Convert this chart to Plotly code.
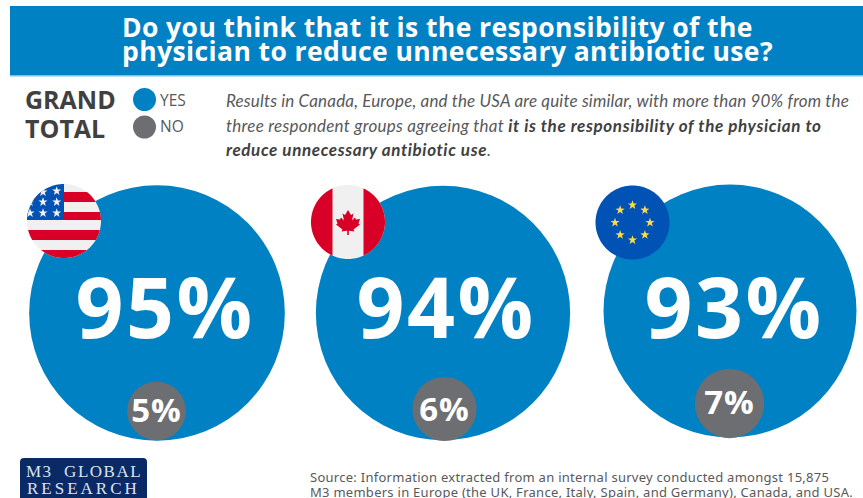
import math
import plotly.graph_objects as go

# Survey results
regions = ["USA", "Canada", "Europe"]
yes_pct = [95, 94, 93]
no_pct = [5, 6, 7]

INK = "#404041"


def spaced(text, px):
    return f'<span style="letter-spacing:{px}px">{text}</span>'


def strong(text, px):
    return f'<span style="letter-spacing:{px}px;fill:{INK}"><b>{text}</b></span>'


title_lines = [
    "Do you think that it is the responsibility of the",
    "physician to reduce unnecessary antibiotic use?",
]
intro_lines = [
    "<i>" + spaced("Results in Canada, Europe, and the USA are quite similar, with more than 90% from the", 0.16) + "</i>",
    "<i>" + spaced("three respondent groups agreeing that ", 0.25)
    + strong("it is the responsibility of the physician to", 0.62) + "</i>",
    "<i>" + strong("reduce unnecessary antibiotic use", 0.62) + ".</i>",
]
source_lines = [
    "Source: Information extracted from an internal survey conducted amongst 15,875",
    "M3 members in Europe (the UK, France, Italy, Spain, and Germany), Canada, and USA.",
]

W, H = 863, 498
BLUE = "#0081C4"
GRAY = "#6D6E71"
RED = "#D80027"
PALE = "#F0F0F0"
NAVY = "#0A2A66"
EU_BLUE = "#0052B4"
GOLD = "#FFDA44"

# Circle areas share one scale, so the bubbles compare directly
AREA_PX_PER_POINT = 172.0
sizeref = 1 / (2 * AREA_PX_PER_POINT)

yes_x = [157, 443, 730]
yes_y = [313, 313, 311]
no_x = [156.5, 444.5, 729.5]
no_y = [411, 409, 403.5]
yes_label_x = [165, 446, 734]
yes_label_y = [317, 317, 317]
no_label_y = [414, 413, 406]
flag_centres = [(64, 221), (348, 222), (632.5, 222.5)]
FLAG_R = 37


def clip(poly, x0, x1, y0, y1):
    """Clip a polygon to a rectangle, one edge at a time."""
    edges = [
        (lambda p: p[0] >= x0, 0, x0),
        (lambda p: p[0] <= x1, 0, x1),
        (lambda p: p[1] >= y0, 1, y0),
        (lambda p: p[1] <= y1, 1, y1),
    ]
    for inside, axis, val in edges:
        out = []
        for i, p in enumerate(poly):
            q = poly[(i + 1) % len(poly)]
            if inside(p):
                out.append(p)
            if inside(p) != inside(q):
                t = (val - p[axis]) / (q[axis] - p[axis])
                out.append((p[0] + t * (q[0] - p[0]), p[1] + t * (q[1] - p[1])))
        poly = out
    return poly


def circle_pts(cx, cy, r, n=120):
    return [(cx + r * math.cos(2 * math.pi * i / n), cy + r * math.sin(2 * math.pi * i / n)) for i in range(n)]


def star_pts(cx, cy, r):
    pts = []
    for i in range(10):
        a = -math.pi / 2 + i * math.pi / 5
        rad = r if i % 2 == 0 else r * 0.4
        pts.append((cx + rad * math.cos(a), cy + rad * math.sin(a)))
    return pts


def pull_inside(pts, cx, cy, r):
    """Project any point lying beyond the flag's edge back onto it."""
    out = []
    for x, y in pts:
        d = math.hypot(x - cx, y - cy)
        k = min(1, r / d) if d else 1
        out.append((cx + (x - cx) * k, cy + (y - cy) * k))
    return out


def poly_shape(pts, color):
    path = "M" + "L".join(f"{x:.2f},{y:.2f}" for x, y in pts) + "Z"
    return dict(type="path", path=path, xref="x", yref="y", fillcolor=color, line=dict(width=0), layer="above")


def rect_shape(x0, y0, x1, y1, color, layer="below"):
    return dict(type="rect", x0=x0, x1=x1, y0=y0, y1=y1, xref="x", yref="y",
                fillcolor=color, line=dict(width=0), layer=layer)


shapes = [
    rect_shape(10, 6, W, 75, BLUE),
    rect_shape(10, 75, W, 76.5, "#7CC0E8"),
    dict(type="path", xref="x", yref="y", fillcolor=NAVY, line=dict(width=0), layer="below",
         path="M20,462 Q20,458 24,458 L143,458 Q147,458 147,462 L147,500 L20,500 Z"),
]

# Stars and stripes
cx, cy = flag_centres[0]
disc = circle_pts(cx, cy, FLAG_R)
shapes.append(poly_shape(disc, PALE))
for y0, y1 in [(192, 202), (212, 220), (230, 240), (250, 258)]:
    shapes.append(poly_shape(clip(disc, 0, W, y0, y1), RED))
shapes.append(poly_shape(clip(disc, 0, cx, 0, cy - 1), EU_BLUE))
for sx, sy in [(56.7, 191), (43, 192), (30, 202), (43, 202), (56.7, 202), (30, 213), (43, 213), (56.7, 213)]:
    shapes.append(poly_shape(pull_inside(star_pts(sx, sy, 4.8), cx, cy, FLAG_R), PALE))

# Maple leaf
cx, cy = flag_centres[1]
disc = circle_pts(cx, cy, FLAG_R)
shapes.append(poly_shape(disc, PALE))
shapes.append(poly_shape(clip(disc, 0, cx - 15.5, 0, H), RED))
shapes.append(poly_shape(clip(disc, cx + 15.5, W, 0, H), RED))
leaf = [(0, -12), (-3, -7), (-5.5, -8.5), (-4, -1.5), (-7, -4.5), (-8, -2.5), (-12, -3), (-10.5, 1.5),
        (-12, 2.5), (-5.5, 7.5), (-6.5, 9.5), (-0.8, 8.7), (-0.8, 13), (0.8, 13), (0.8, 8.7), (6.5, 9.5),
        (5.5, 7.5), (12, 2.5), (10.5, 1.5), (12, -3), (8, -2.5), (7, -4.5), (4, -1.5), (5.5, -8.5), (3, -7)]
shapes.append(poly_shape([(cx + x, cy + y) for x, y in leaf], RED))

# Ring of stars
cx, cy = flag_centres[2]
shapes.append(poly_shape(circle_pts(cx, cy, FLAG_R), EU_BLUE))
for i in range(8):
    a = i * math.pi / 4
    shapes.append(poly_shape(star_pts(cx + 17.5 * math.cos(a), cy + 17.5 * math.sin(a), 4.8), GOLD))

fig = go.Figure()

fig.add_trace(go.Scatter(
    x=yes_x, y=yes_y, mode="markers", name="Yes", customdata=regions,
    marker=dict(size=yes_pct, sizemode="area", sizeref=sizeref, color=BLUE, opacity=1, line=dict(width=0)),
))
fig.add_trace(go.Scatter(
    x=no_x, y=no_y, mode="markers", name="No", customdata=regions,
    marker=dict(size=no_pct, sizemode="area", sizeref=sizeref, color=GRAY, opacity=1, line=dict(width=0)),
))
fig.add_trace(go.Scatter(
    x=yes_label_x, y=yes_label_y, mode="text", text=[spaced(f"{v}%", 2.5) for v in yes_pct],
    textposition="middle center",
    textfont=dict(family="Open Sans", size=84, color="white", weight="bold"),
))
fig.add_trace(go.Scatter(
    x=no_x, y=no_label_y, mode="text", text=[spaced(f"{v}%", 1) for v in no_pct],
    textposition="middle center",
    textfont=dict(family="Open Sans", size=33, color="white", weight="bold"),
))
# Legend dots
fig.add_trace(go.Scatter(
    x=[144.5, 144.5], y=[99.5, 127], mode="markers",
    marker=dict(size=23, color=[BLUE, GRAY], opacity=1, line=dict(width=0)),
))


def note(text, x, y, size, color, family="Open Sans", xanchor="left", weight=None):
    font = dict(family=family, size=size, color=color)
    if weight:
        font["weight"] = weight
    fig.add_annotation(text=text, x=x, y=y, xref="x", yref="y", showarrow=False,
                       xanchor=xanchor, yanchor="middle", font=font, borderpad=0, borderwidth=0)


for line, y in zip(title_lines, [27, 51]):
    note(spaced(line, 0.4), 122, y, 26.5, "white", weight="bold")
note("GRAND", 25, 99, 25, INK, weight="bold")
note("TOTAL", 25, 127.5, 25, INK, weight="bold")
note("YES", 160, 100, 15.5, "#58595B")
note("NO", 160, 126, 15.5, "#58595B")
for line, y in zip(intro_lines, [100, 125, 149]):
    note(line, 226, y, 17, "#58595B", family="Lato")
for line, y in zip(source_lines, [477, 492]):
    note(spaced(line, 0.27), 310, y, 13, "#58595B", family="Noto Sans")
note(spaced("M3&#160;&#160;GLOBAL", 1.5), 83.5, 471, 17, "#DDE3EE", family="Liberation Serif", xanchor="center")
note(spaced("RESEARCH", 3), 83.5, 488, 17, "#DDE3EE", family="Liberation Serif", xanchor="center")

fig.update_layout(
    width=W, height=H, margin=dict(l=0, r=0, t=0, b=0),
    paper_bgcolor="white", plot_bgcolor="white",
    showlegend=False, hovermode=False, shapes=shapes,
    xaxis=dict(range=[0, W], visible=False, fixedrange=True),
    yaxis=dict(range=[H, 0], visible=False, fixedrange=True),
)

fig.write_html("out.html", config={"displayModeBar": False})
